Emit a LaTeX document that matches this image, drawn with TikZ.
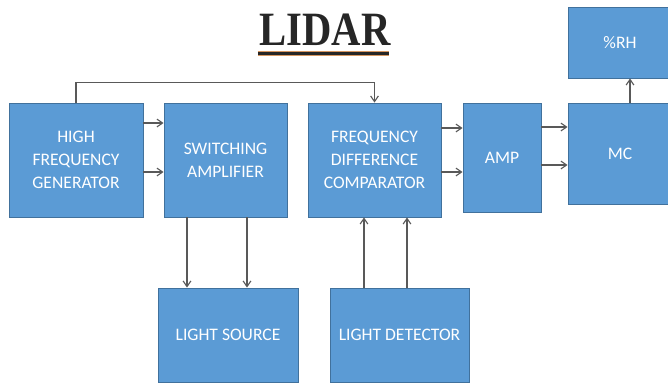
\documentclass[tikz,border=0pt]{standalone}
\usepackage{fontspec}
\setmainfont{Carlito}
\newfontfamily\titlefont{Liberation Serif}
\usetikzlibrary{arrows.meta}
\definecolor{BoxBlue}{RGB}{91,155,213}
\definecolor{BoxEdge}{RGB}{65,113,156}
\definecolor{LineGray}{RGB}{89,89,89}
\definecolor{TitleInk}{RGB}{38,38,38}
\definecolor{TitleGlow}{RGB}{214,150,96}

\begin{document}
\begin{tikzpicture}[x=0.025cm, y=-0.025cm,
        unit/.style={draw=BoxEdge, fill=BoxBlue, line width=0.6pt, text=white, font=\fontsize{12.5}{16.5}\selectfont, align=center, inner sep=0pt},
        title/.style={font=\titlefont\bfseries\fontsize{34}{34}\selectfont, text=TitleInk, inner sep=0pt},
        arrow/.style={-{Straight Barb[length=4pt, width=5.5pt]}, line width=0.8pt, LineGray}
    ]
        \useasboundingbox (0,0) rectangle (668,383);

        % Title
        \node[title] (lidar) at (325,30) {\scalebox{0.85}[1]{LIDAR}};
        \draw[TitleGlow, line width=3.6pt] ([xshift=-1pt, yshift=-0.18cm]lidar.south west) -- ([xshift=-1pt, yshift=-0.18cm]lidar.south east);
        \draw[TitleInk, line width=2pt] ([xshift=-1pt, yshift=-0.18cm]lidar.south west) -- ([xshift=-1pt, yshift=-0.18cm]lidar.south east);

        % Blocks
        \node[unit, minimum width=3.35cm, minimum height=2.85cm] (hfg) at (76,160) {HIGH\\FREQUENCY\\GENERATOR};
        \node[unit, minimum width=3.075cm, minimum height=2.85cm] (swamp) at (225.5,160) {SWITCHING\\AMPLIFIER};
        \node[unit, minimum width=3.325cm, minimum height=2.85cm] (fdc) at (374.5,160) {FREQUENCY\\DIFFERENCE\\COMPARATOR};
        \node[unit, minimum width=1.95cm, minimum height=2.725cm] (amp) at (502,157.5) {AMP};
        \node[unit, minimum width=2.6cm, minimum height=2.525cm] (mc) at (620,153.5) {MC};
        \node[unit, minimum width=2.6cm, minimum height=1.775cm] (rh) at (620,42.5) {\%RH};
        \node[unit, minimum width=3.5cm, minimum height=2.35cm] (lsrc) at (228,335) {LIGHT SOURCE};
        \node[unit, minimum width=3.475cm, minimum height=2.35cm] (ldet) at (399.5,335) {LIGHT DETECTOR};

        % Connections
        \draw[arrow] (hfg.east |- 0,123) -- (swamp.west |- 0,123);
        \draw[arrow] (hfg.east |- 0,172) -- (swamp.west |- 0,172);
        \draw[arrow] (hfg.north) -- ++(0,-20) -| (fdc.north);
        \draw[arrow] (fdc.east |- 0,128) -- (amp.west |- 0,128);
        \draw[arrow] (fdc.east |- 0,172) -- (amp.west |- 0,172);
        \draw[arrow] (amp.east |- 0,127) -- (mc.west |- 0,127);
        \draw[arrow] (amp.east |- 0,165) -- (mc.west |- 0,165);
        \draw[arrow] (mc.north -| 630,0) -- (rh.south -| 630,0);
        \draw[arrow] (swamp.south -| 187,0) -- (lsrc.north -| 187,0);
        \draw[arrow] (swamp.south -| 247,0) -- (lsrc.north -| 247,0);
        \draw[arrow] (ldet.north -| 364,0) -- (fdc.south -| 364,0);
        \draw[arrow] (ldet.north -| 407,0) -- (fdc.south -| 407,0);
    \end{tikzpicture}
\end{document}
